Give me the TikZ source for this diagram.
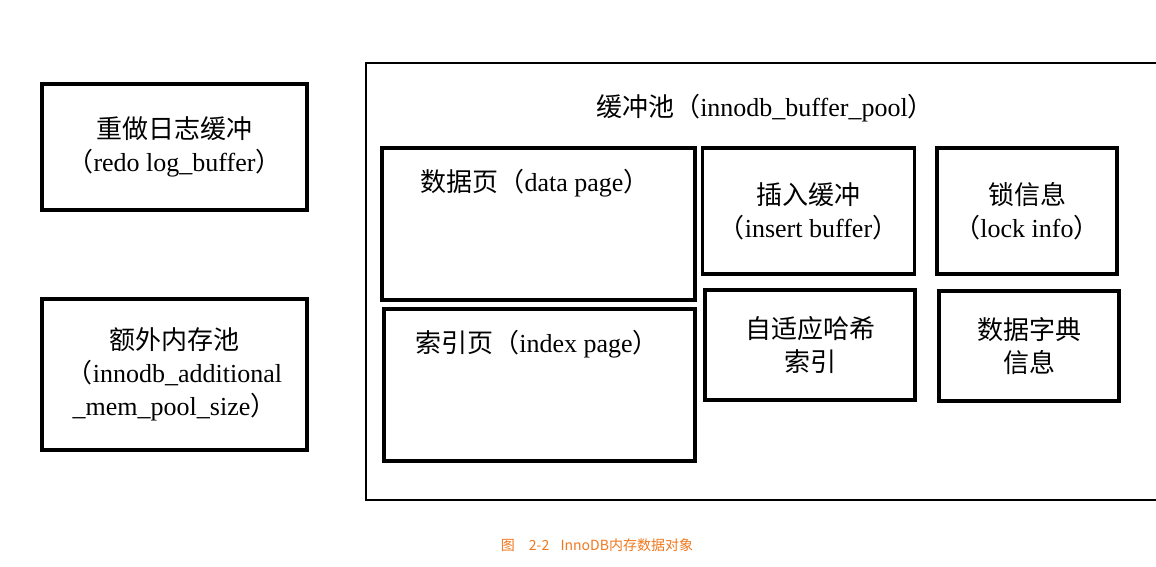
\documentclass[tikz,border=0pt]{standalone}
\usepackage{fontspec}
\setmainfont{Liberation Serif}
\newfontfamily\zh{Noto Sans CJK SC}
\definecolor{captionorange}{RGB}{240,120,30}

\begin{document}
\begin{tikzpicture}[
  x=1pt, y=-1pt,
  every node/.style={text=black, align=center, font=\fontsize{26}{33}\selectfont},
  membox/.style={draw=black, line width=3.5pt, inner sep=0pt}, % Thick boxes
  poolbox/.style={draw=black, line width=1.4pt, inner sep=0pt}, % Thin outer frame
  caption/.style={text=captionorange, font=\zh\fontsize{14}{16}\selectfont}
]
\useasboundingbox (0,0) rectangle (1156,566);
\clip (0,0) rectangle (1156,566);

% Left column
\node[membox, minimum width=265pt, minimum height=126pt] (redo) at (174.5,147)
  {{\zh 重做日志缓冲}\\{\zh（}redo log\_buffer{\zh）}};
\node[membox, minimum width=265pt, minimum height=151pt] (additional) at (174.5,374.5)
  {{\zh 额外内存池}\\{\zh（}innodb\_additional\\\_mem\_pool\_size{\zh）}};

% Buffer pool (right edge runs off the page)
\node[poolbox, minimum width=804pt, minimum height=437pt] (pool) at (768,281.5) {};
\node (pooltitle) at (765,108) {{\zh 缓冲池（}innodb\_buffer\_pool{\zh）}};

% Pages
\node[membox, minimum width=313pt, minimum height=152pt] (datapage) at (538.5,224) {};
\node (datalabel) at (535,183) {{\zh 数据页（}data page{\zh）}};
\node[membox, minimum width=311pt, minimum height=152pt] (indexpage) at (539.5,385) {};
\node (indexlabel) at (537,344) {{\zh 索引页（}index page{\zh）}};

% Small boxes
\node[membox, minimum width=212pt, minimum height=126pt] (insert) at (808.5,211)
  {{\zh 插入缓冲}\\{\zh（}insert buffer{\zh）}};
\node[membox, minimum width=180pt, minimum height=126pt] (lock) at (1027,211)
  {{\zh 锁信息}\\{\zh（}lock info{\zh）}};
\node[membox, minimum width=210pt, minimum height=110pt] (hash) at (810,345)
  {{\zh 自适应哈希}\\{\zh 索引}};
\node[membox, minimum width=180pt, minimum height=110pt] (dict) at (1029,346)
  {{\zh 数据字典}\\{\zh 信息}};

% Caption
\node[caption] (fig) at (597,545) {图\hspace{1em}2-2\hspace{0.8em}InnoDB内存数据对象};

\end{tikzpicture}
\end{document}
